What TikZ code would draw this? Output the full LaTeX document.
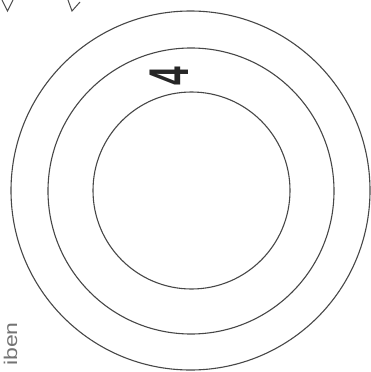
\documentclass[tikz,border=0pt]{standalone}
\usepackage{fontspec}
\setmainfont{Liberation Sans}
\begin{document}
\begin{tikzpicture}[x=1pt,y=-1pt,
  ring/.style={draw=black!72,line width=1.1pt,circle,inner sep=0pt},
  faint/.style={draw=black!70,line width=1pt,line join=miter}]
\useasboundingbox (0,0) rectangle (370,372);
\fill[white] (0,0) rectangle (370,372);
\coordinate (c) at (190.5,190.5);
\node[ring,minimum size=359pt] (outer) at (c) {};
\node[ring,minimum size=286pt] (middle) at (191,191) {};
\node[ring,minimum size=197pt] (inner) at (191.5,190.5) {};
\node[rotate=90,inner sep=0pt,text=black!85] (four) at (169,76)
  {\fontsize{56}{56}\selectfont\bfseries\scalebox{0.6}[1]{4}};
\node[rotate=90,inner sep=0pt,text=black!55,anchor=south west] (word) at (17.5,366)
  {\scalebox{1}[0.8]{\fontsize{23}{23}\selectfont iben}};
\draw[faint] (2,0) -- (7.5,11) -- (13,0);
\draw[faint] (68,0) -- (72,11) -- (80,2);
\end{tikzpicture}
\end{document}
